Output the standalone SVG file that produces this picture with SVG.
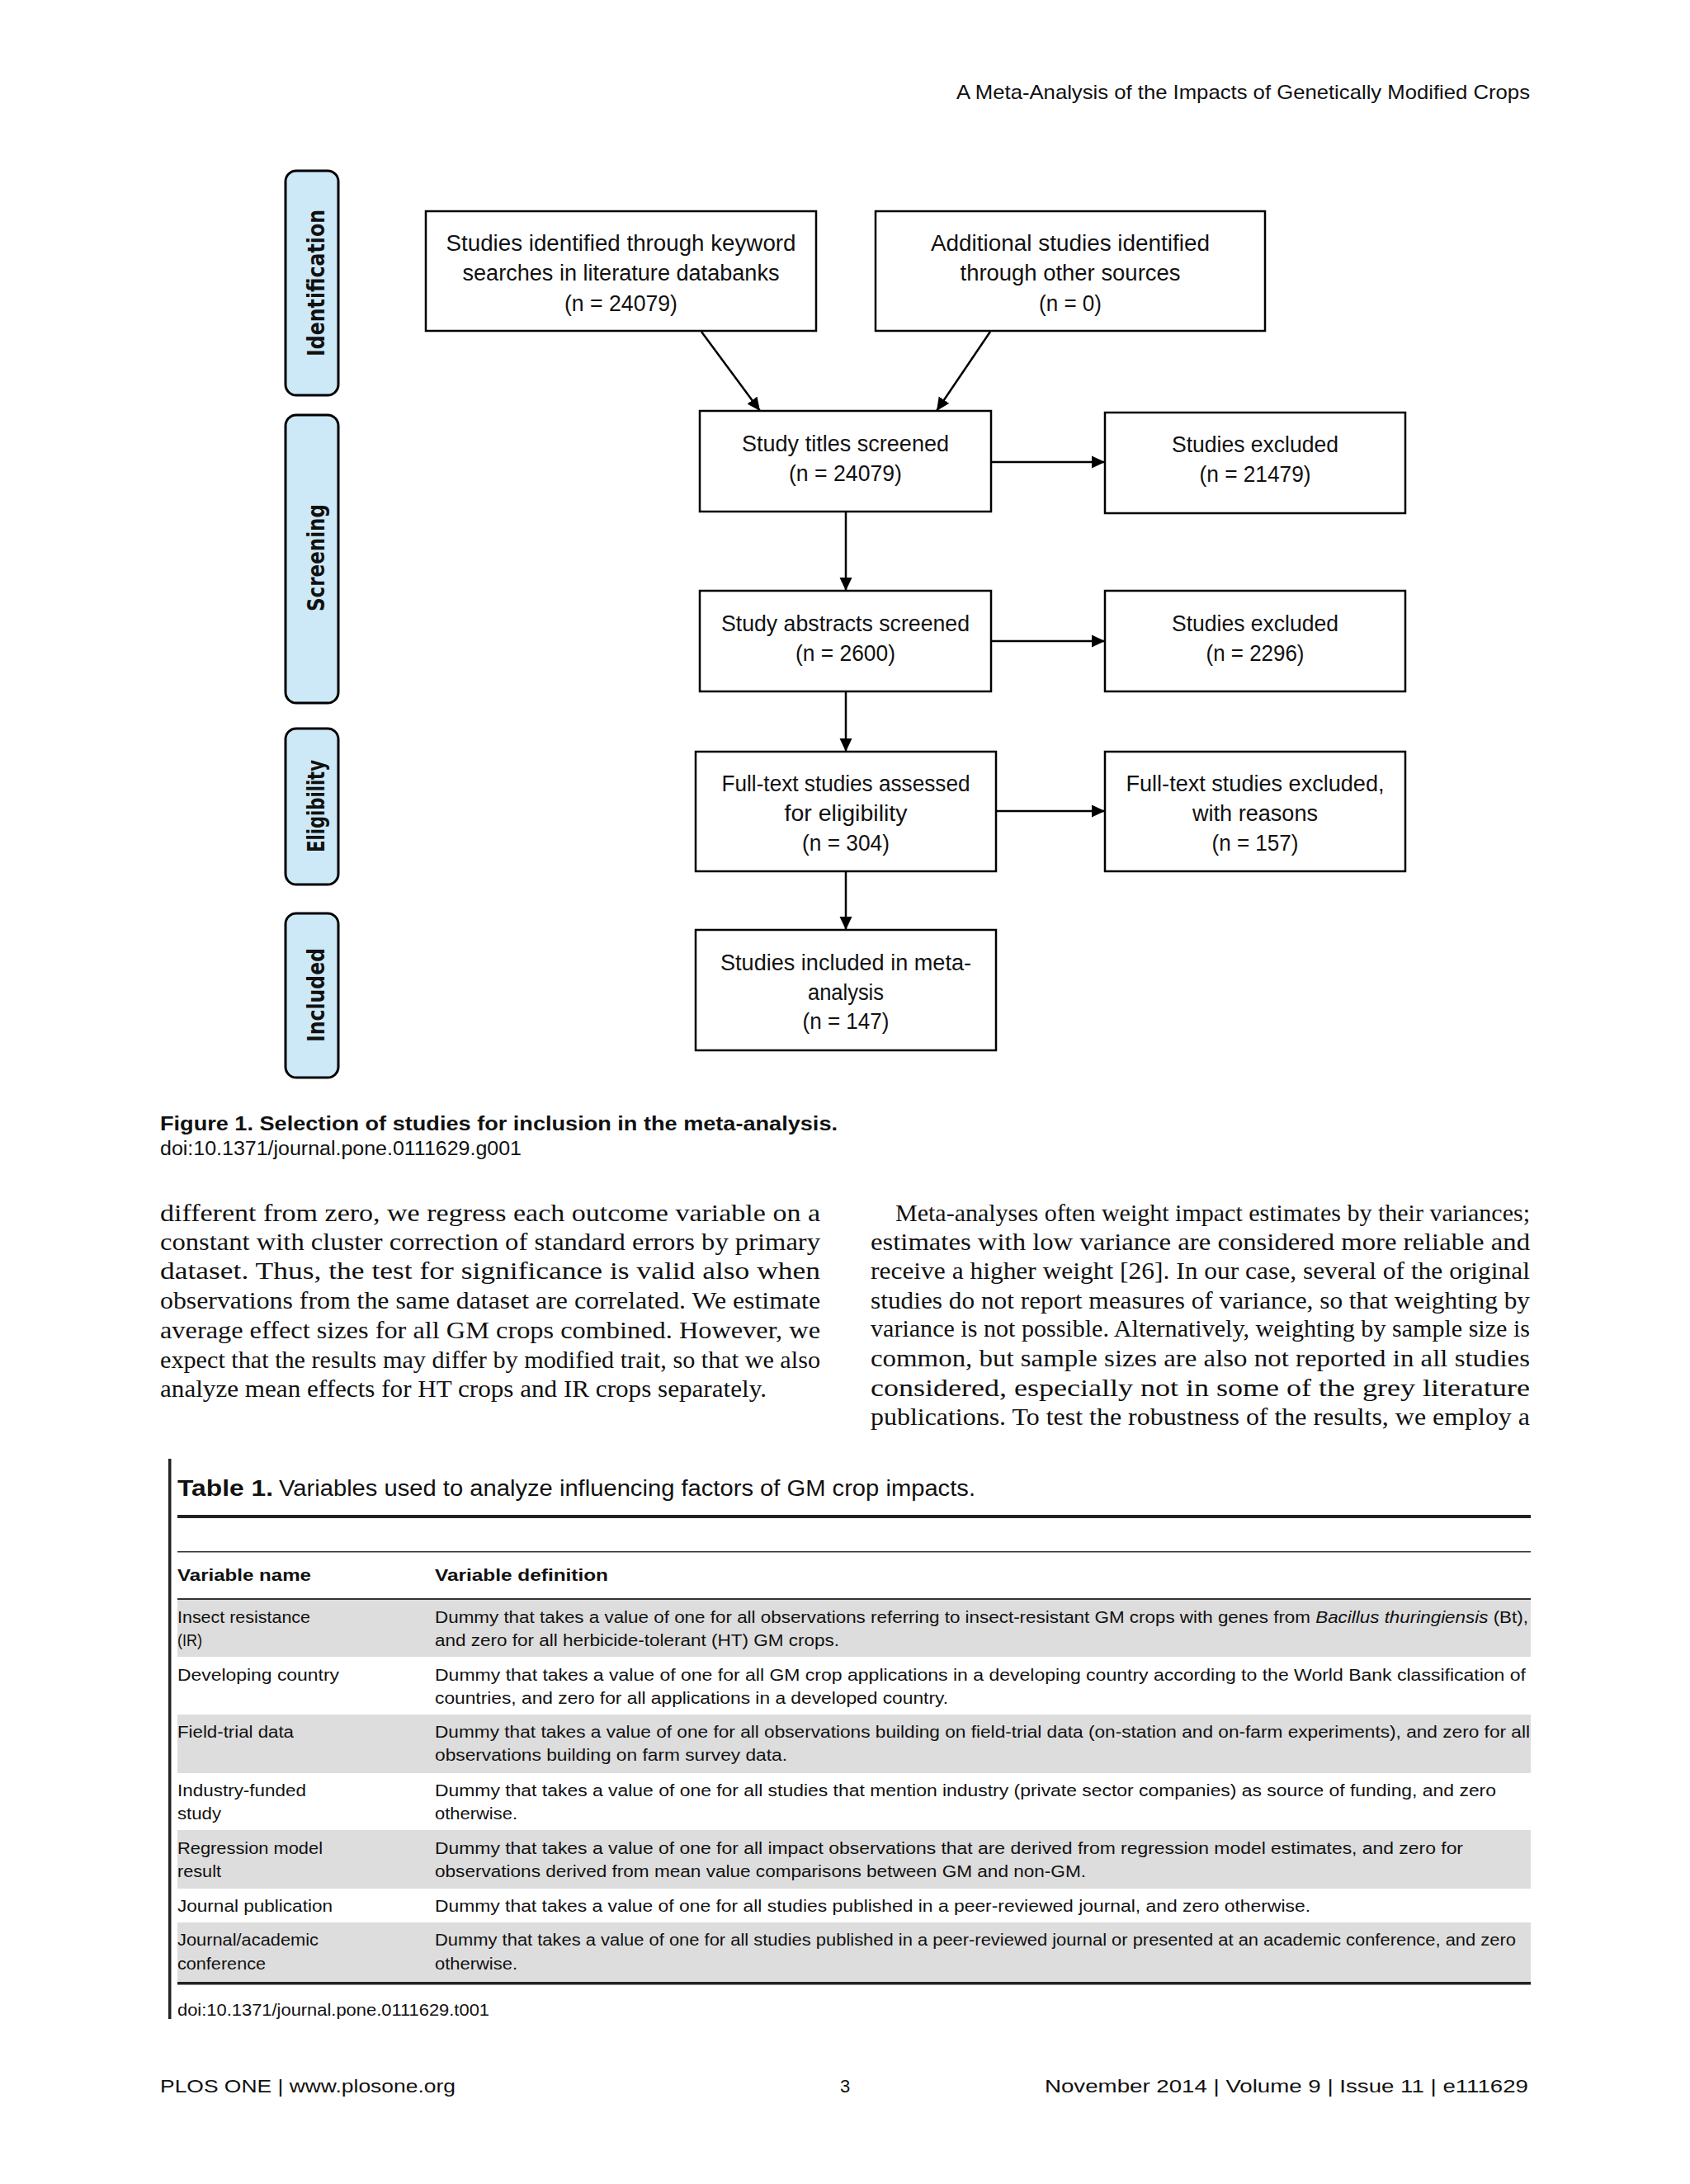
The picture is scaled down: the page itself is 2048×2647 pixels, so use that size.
<svg xmlns="http://www.w3.org/2000/svg" width="2048" height="2647" viewBox="0 0 2048 2647">
<defs>
<marker id="arrow" viewBox="0 0 16 16" refX="16" refY="8" markerWidth="16" markerHeight="16" markerUnits="userSpaceOnUse" orient="auto">
<path d="M0,0.5 L16,8 L0,15.5 Z" fill="#000"/>
</marker>
<style>
.box{fill:#fff;stroke:#000;stroke-width:2.5}
.pill{fill:#cde9f8;stroke:#000;stroke-width:3}
.bt{font-family:'Liberation Sans',Arial,sans-serif;font-size:27px;text-anchor:middle;fill:#111}
.pt{font-family:'DejaVu Sans',Verdana,sans-serif;font-weight:bold;font-size:29px;text-anchor:middle;fill:#111}
.conn{stroke:#000;stroke-width:2.5;fill:none;marker-end:url(#arrow)}
.body{font-family:'Liberation Serif','Times New Roman',serif;font-size:30px;fill:#111}
.sans{font-family:'Liberation Sans',Arial,sans-serif;fill:#111}
.tbl{font-family:'Liberation Sans',Arial,sans-serif;font-size:20.5px;fill:#111}
.gray{fill:#dddddd}
</style>
</defs>
<rect width="2048" height="2647" fill="#fff"/>

<!-- page header -->
<text class="sans" x="1159" y="120" font-size="24" textLength="695" lengthAdjust="spacingAndGlyphs">A Meta-Analysis of the Impacts of Genetically Modified Crops</text>

<!-- phase labels -->
<g id="phase-identification">
<rect class="pill" x="346" y="207" width="64" height="272" rx="13"/>
<text class="pt" transform="translate(393,343) rotate(-90)" textLength="178" lengthAdjust="spacingAndGlyphs">Identification</text>
</g>
<g id="phase-screening">
<rect class="pill" x="346" y="503" width="64" height="349" rx="13"/>
<text class="pt" transform="translate(393,676) rotate(-90)" textLength="130" lengthAdjust="spacingAndGlyphs">Screening</text>
</g>
<g id="phase-eligibility">
<rect class="pill" x="346" y="883" width="64" height="189" rx="13"/>
<text class="pt" transform="translate(393,977) rotate(-90)" textLength="112" lengthAdjust="spacingAndGlyphs">Eligibility</text>
</g>
<g id="phase-included">
<rect class="pill" x="346" y="1107" width="64" height="199" rx="13"/>
<text class="pt" transform="translate(393,1206) rotate(-90)" textLength="114" lengthAdjust="spacingAndGlyphs">Included</text>
</g>

<!-- nodes -->
<g id="node-keyword">
<rect class="box" x="516" y="256" width="473" height="145"/>
<text class="bt" x="752.5" y="304" textLength="424" lengthAdjust="spacingAndGlyphs">Studies identified through keyword</text>
<text class="bt" x="752.5" y="340" textLength="384" lengthAdjust="spacingAndGlyphs">searches in literature databanks</text>
<text class="bt" x="752.5" y="377" textLength="137" lengthAdjust="spacingAndGlyphs">(n = 24079)</text>
</g>
<g id="node-additional">
<rect class="box" x="1061" y="256" width="472" height="145"/>
<text class="bt" x="1297" y="304" textLength="338" lengthAdjust="spacingAndGlyphs">Additional studies identified</text>
<text class="bt" x="1297" y="340" textLength="267" lengthAdjust="spacingAndGlyphs">through other sources</text>
<text class="bt" x="1297" y="377" textLength="76" lengthAdjust="spacingAndGlyphs">(n = 0)</text>
</g>
<g id="node-titles">
<rect class="box" x="848" y="498" width="353" height="122"/>
<text class="bt" x="1024.5" y="547" textLength="251" lengthAdjust="spacingAndGlyphs">Study titles screened</text>
<text class="bt" x="1024.5" y="583" textLength="137" lengthAdjust="spacingAndGlyphs">(n = 24079)</text>
</g>
<g id="node-excluded1">
<rect class="box" x="1339" y="500" width="364" height="122"/>
<text class="bt" x="1521" y="548" textLength="202" lengthAdjust="spacingAndGlyphs">Studies excluded</text>
<text class="bt" x="1521" y="584" textLength="135" lengthAdjust="spacingAndGlyphs">(n = 21479)</text>
</g>
<g id="node-abstracts">
<rect class="box" x="848" y="716" width="353" height="122"/>
<text class="bt" x="1024.5" y="765" textLength="301" lengthAdjust="spacingAndGlyphs">Study abstracts screened</text>
<text class="bt" x="1024.5" y="801" textLength="121" lengthAdjust="spacingAndGlyphs">(n = 2600)</text>
</g>
<g id="node-excluded2">
<rect class="box" x="1339" y="716" width="364" height="122"/>
<text class="bt" x="1521" y="765" textLength="202" lengthAdjust="spacingAndGlyphs">Studies excluded</text>
<text class="bt" x="1521" y="801" textLength="119" lengthAdjust="spacingAndGlyphs">(n = 2296)</text>
</g>
<g id="node-fulltext">
<rect class="box" x="843" y="911" width="364" height="145"/>
<text class="bt" x="1025" y="959" textLength="301" lengthAdjust="spacingAndGlyphs">Full-text studies assessed</text>
<text class="bt" x="1025" y="995" textLength="149" lengthAdjust="spacingAndGlyphs">for eligibility</text>
<text class="bt" x="1025" y="1031" textLength="106" lengthAdjust="spacingAndGlyphs">(n = 304)</text>
</g>
<g id="node-excluded3">
<rect class="box" x="1339" y="911" width="364" height="145"/>
<text class="bt" x="1521" y="959" textLength="313" lengthAdjust="spacingAndGlyphs">Full-text studies excluded,</text>
<text class="bt" x="1521" y="995" textLength="152" lengthAdjust="spacingAndGlyphs">with reasons</text>
<text class="bt" x="1521" y="1031" textLength="105" lengthAdjust="spacingAndGlyphs">(n = 157)</text>
</g>
<g id="node-included">
<rect class="box" x="843" y="1127" width="364" height="146"/>
<text class="bt" x="1025" y="1176" textLength="304" lengthAdjust="spacingAndGlyphs">Studies included in meta-</text>
<text class="bt" x="1025" y="1212" textLength="92" lengthAdjust="spacingAndGlyphs">analysis</text>
<text class="bt" x="1025" y="1247" textLength="105" lengthAdjust="spacingAndGlyphs">(n = 147)</text>
</g>

<!-- connectors -->
<g id="connectors">
<path class="conn" d="M850,402 L921,498"/>
<path class="conn" d="M1200,402 L1135,498"/>
<path class="conn" d="M1201,560 L1339,560"/>
<path class="conn" d="M1025,620 L1025,716"/>
<path class="conn" d="M1201,777 L1339,777"/>
<path class="conn" d="M1025,838 L1025,911"/>
<path class="conn" d="M1207,983 L1339,983"/>
<path class="conn" d="M1025,1056 L1025,1127"/>
</g>

<!-- figure caption -->
<text class="sans" x="194" y="1370" font-size="23" font-weight="bold" textLength="821" lengthAdjust="spacingAndGlyphs">Figure 1. Selection of studies for inclusion in the meta-analysis.</text>
<text class="sans" x="194" y="1400" font-size="23" textLength="438" lengthAdjust="spacingAndGlyphs">doi:10.1371/journal.pone.0111629.g001</text>

<!-- body text left column -->
<g class="body">
<text x="194" y="1480" textLength="800" lengthAdjust="spacingAndGlyphs">different from zero, we regress each outcome variable on a</text>
<text x="194" y="1515" textLength="800" lengthAdjust="spacingAndGlyphs">constant with cluster correction of standard errors by primary</text>
<text x="194" y="1550" textLength="800" lengthAdjust="spacingAndGlyphs">dataset. Thus, the test for significance is valid also when</text>
<text x="194" y="1586" textLength="800" lengthAdjust="spacingAndGlyphs">observations from the same dataset are correlated. We estimate</text>
<text x="194" y="1622" textLength="800" lengthAdjust="spacingAndGlyphs">average effect sizes for all GM crops combined. However, we</text>
<text x="194" y="1658" textLength="800" lengthAdjust="spacingAndGlyphs">expect that the results may differ by modified trait, so that we also</text>
<text x="194" y="1693" textLength="735" lengthAdjust="spacingAndGlyphs">analyze mean effects for HT crops and IR crops separately.</text>
</g>

<!-- body text right column -->
<g class="body">
<text x="1085" y="1480" textLength="769" lengthAdjust="spacingAndGlyphs">Meta-analyses often weight impact estimates by their variances;</text>
<text x="1055" y="1515" textLength="799" lengthAdjust="spacingAndGlyphs">estimates with low variance are considered more reliable and</text>
<text x="1055" y="1550" textLength="799" lengthAdjust="spacingAndGlyphs">receive a higher weight [26]. In our case, several of the original</text>
<text x="1055" y="1586" textLength="799" lengthAdjust="spacingAndGlyphs">studies do not report measures of variance, so that weighting by</text>
<text x="1055" y="1620" textLength="799" lengthAdjust="spacingAndGlyphs">variance is not possible. Alternatively, weighting by sample size is</text>
<text x="1055" y="1656" textLength="799" lengthAdjust="spacingAndGlyphs">common, but sample sizes are also not reported in all studies</text>
<text x="1055" y="1692" textLength="799" lengthAdjust="spacingAndGlyphs">considered, especially not in some of the grey literature</text>
<text x="1055" y="1727" textLength="799" lengthAdjust="spacingAndGlyphs">publications. To test the robustness of the results, we employ a</text>
</g>

<!-- table -->
<g id="table1">
<rect x="204" y="1768" width="3.5" height="679" fill="#222"/>
<text class="sans" x="215" y="1813" font-size="27" font-weight="bold" textLength="116" lengthAdjust="spacingAndGlyphs">Table 1.</text>
<text class="sans" x="338" y="1813" font-size="27" textLength="844" lengthAdjust="spacingAndGlyphs">Variables used to analyze influencing factors of GM crop impacts.</text>
<rect x="215" y="1836" width="1640" height="4" fill="#222"/>
<rect x="215" y="1880" width="1640" height="1.5" fill="#333"/>
<text class="tbl" x="215" y="1916" font-weight="bold" textLength="162" lengthAdjust="spacingAndGlyphs">Variable name</text>
<text class="tbl" x="527" y="1916" font-weight="bold" textLength="210" lengthAdjust="spacingAndGlyphs">Variable definition</text>
<rect x="215" y="1937" width="1640" height="2" fill="#333"/>

<rect class="gray" x="215" y="1939" width="1640" height="69"/>
<rect class="gray" x="215" y="2078" width="1640" height="71"/>
<rect class="gray" x="215" y="2218" width="1640" height="71"/>
<rect class="gray" x="215" y="2330" width="1640" height="73"/>

<text class="tbl" x="215" y="1967" textLength="161" lengthAdjust="spacingAndGlyphs">Insect resistance</text>
<text class="tbl" x="215" y="1995" textLength="30" lengthAdjust="spacingAndGlyphs">(IR)</text>
<text class="tbl" x="527" y="1967" textLength="1325" lengthAdjust="spacingAndGlyphs">Dummy that takes a value of one for all observations referring to insect-resistant GM crops with genes from <tspan font-style="italic">Bacillus thuringiensis</tspan> (Bt),</text>
<text class="tbl" x="527" y="1995" textLength="490" lengthAdjust="spacingAndGlyphs">and zero for all herbicide-tolerant (HT) GM crops.</text>

<text class="tbl" x="215" y="2037" textLength="196" lengthAdjust="spacingAndGlyphs">Developing country</text>
<text class="tbl" x="527" y="2037" textLength="1322" lengthAdjust="spacingAndGlyphs">Dummy that takes a value of one for all GM crop applications in a developing country according to the World Bank classification of</text>
<text class="tbl" x="527" y="2065" textLength="622" lengthAdjust="spacingAndGlyphs">countries, and zero for all applications in a developed country.</text>

<text class="tbl" x="215" y="2106" textLength="141" lengthAdjust="spacingAndGlyphs">Field-trial data</text>
<text class="tbl" x="527" y="2106" textLength="1327" lengthAdjust="spacingAndGlyphs">Dummy that takes a value of one for all observations building on field-trial data (on-station and on-farm experiments), and zero for all</text>
<text class="tbl" x="527" y="2134" textLength="427" lengthAdjust="spacingAndGlyphs">observations building on farm survey data.</text>

<text class="tbl" x="215" y="2177" textLength="156" lengthAdjust="spacingAndGlyphs">Industry-funded</text>
<text class="tbl" x="215" y="2205" textLength="53" lengthAdjust="spacingAndGlyphs">study</text>
<text class="tbl" x="527" y="2177" textLength="1286" lengthAdjust="spacingAndGlyphs">Dummy that takes a value of one for all studies that mention industry (private sector companies) as source of funding, and zero</text>
<text class="tbl" x="527" y="2205" textLength="100" lengthAdjust="spacingAndGlyphs">otherwise.</text>

<text class="tbl" x="215" y="2247" textLength="176" lengthAdjust="spacingAndGlyphs">Regression model</text>
<text class="tbl" x="215" y="2275" textLength="53" lengthAdjust="spacingAndGlyphs">result</text>
<text class="tbl" x="527" y="2247" textLength="1246" lengthAdjust="spacingAndGlyphs">Dummy that takes a value of one for all impact observations that are derived from regression model estimates, and zero for</text>
<text class="tbl" x="527" y="2275" textLength="789" lengthAdjust="spacingAndGlyphs">observations derived from mean value comparisons between GM and non-GM.</text>

<text class="tbl" x="215" y="2317" textLength="188" lengthAdjust="spacingAndGlyphs">Journal publication</text>
<text class="tbl" x="527" y="2317" textLength="1061" lengthAdjust="spacingAndGlyphs">Dummy that takes a value of one for all studies published in a peer-reviewed journal, and zero otherwise.</text>

<text class="tbl" x="215" y="2358" textLength="171" lengthAdjust="spacingAndGlyphs">Journal/academic</text>
<text class="tbl" x="215" y="2387" textLength="107" lengthAdjust="spacingAndGlyphs">conference</text>
<text class="tbl" x="527" y="2358" textLength="1310" lengthAdjust="spacingAndGlyphs">Dummy that takes a value of one for all studies published in a peer-reviewed journal or presented at an academic conference, and zero</text>
<text class="tbl" x="527" y="2387" textLength="100" lengthAdjust="spacingAndGlyphs">otherwise.</text>

<rect x="215" y="2402" width="1640" height="3.5" fill="#222"/>
<text class="tbl" x="215" y="2443" textLength="378" lengthAdjust="spacingAndGlyphs">doi:10.1371/journal.pone.0111629.t001</text>
</g>

<!-- footer -->
<text class="sans" x="194" y="2536" font-size="22" textLength="358" lengthAdjust="spacingAndGlyphs">PLOS ONE | www.plosone.org</text>
<text class="sans" x="1024" y="2536" font-size="22" text-anchor="middle">3</text>
<text class="sans" x="1266" y="2536" font-size="22" textLength="586" lengthAdjust="spacingAndGlyphs">November 2014 | Volume 9 | Issue 11 | e111629</text>
</svg>
